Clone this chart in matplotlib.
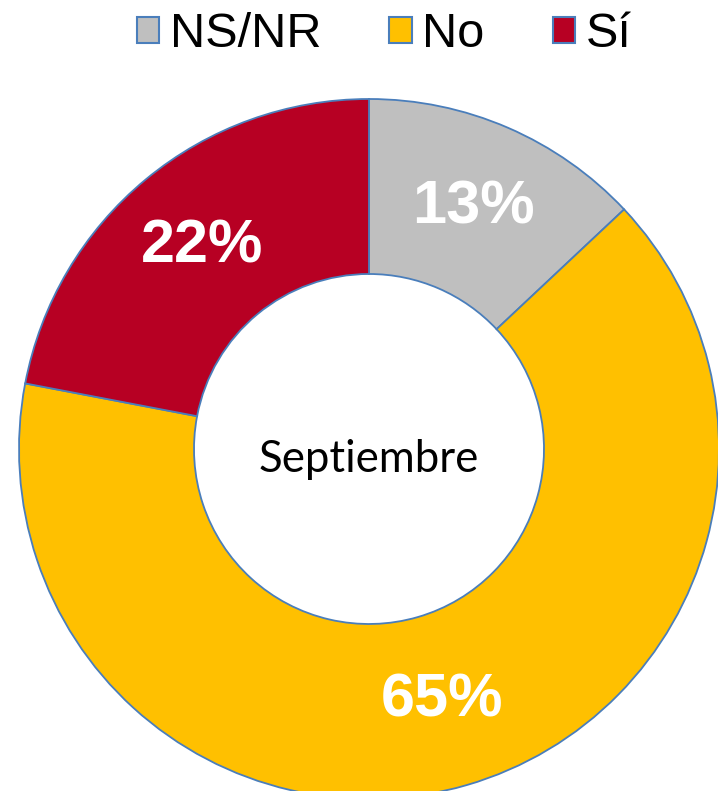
import matplotlib
matplotlib.use("Agg")
import matplotlib.pyplot as plt
from matplotlib.patches import Patch

# 資料
categories = ["NS/NR", "No", "Sí"]
values = [13, 65, 22]
colors = ["#BFBFBF", "#FFC000", "#B70023"]
center_text = "Septiembre"
edge = "#4A7EBB"

fig = plt.figure(figsize=(7.18, 7.91), dpi=100)
ax = fig.add_axes([0, 0, 1, 1])

wedges, texts, autotexts = ax.pie(
    values,
    colors=colors,
    startangle=90,
    counterclock=False,
    radius=1,
    autopct="%.0f%%",
    pctdistance=0.75,
    wedgeprops=dict(width=0.5, edgecolor=edge, linewidth=1.3),
    textprops=dict(color="white", fontsize=44, fontweight="bold",
                   family=["Liberation Sans", "DejaVu Sans"]),
)

ax.text(0, -0.03, center_text, ha="center", va="center",
        fontsize=31.5, color="black", family=["Lato", "DejaVu Sans"])

# 圖表範圍（以半徑為單位）
ax.set_xlim(-369 / 350, 349 / 350)
ax.set_ylim(-342 / 350, 449 / 350)
ax.set_aspect("equal")
ax.axis("off")

handles = [Patch(facecolor=c, edgecolor=edge, linewidth=1.5) for c in colors]
fig.legend(
    handles, categories,
    loc="upper center", bbox_to_anchor=(0.535, 1.040), ncol=3,
    frameon=False,
    prop=dict(family=["Liberation Sans", "DejaVu Sans"], size=35),
    handlelength=0.46, handleheight=0.46, handletextpad=0.22,
    columnspacing=1.4,
)

fig.savefig("out.png", dpi=100, facecolor="white")
plt.close(fig)
